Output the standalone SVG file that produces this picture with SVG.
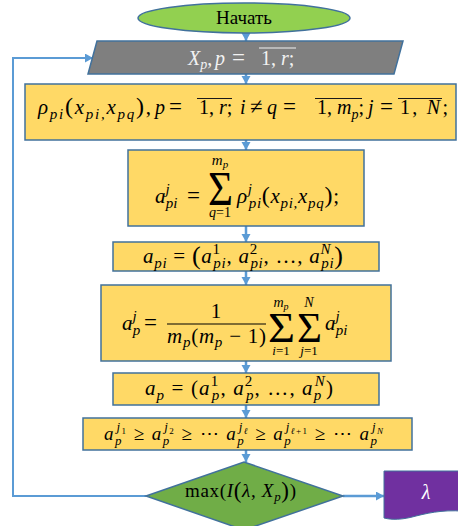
<svg xmlns="http://www.w3.org/2000/svg" width="458" height="526" viewBox="0 0 458 526">
<defs>
<marker id="ah" markerUnits="userSpaceOnUse" markerWidth="10" markerHeight="10" refX="8" refY="4.5" orient="auto">
<path d="M0,0 L8,4.5 L0,9 Z" fill="#5b9bd5"/>
</marker>
<style>
.box{fill:#ffd966;stroke:#41719c;stroke-width:1.5}
.m{font-family:"Liberation Serif","Tinos","Times New Roman","DejaVu Serif","Noto Serif",serif;font-style:italic;fill:#000}
.u{font-style:normal}
.eq{font-style:normal;font-size:23px}
.sig{font-family:"Liberation Serif","Tinos","Times New Roman","DejaVu Serif","Noto Serif",serif;font-style:normal;fill:#000}
.ol{stroke:#1a1a1a;stroke-width:1.2}
.con{fill:none;stroke:#5b9bd5;stroke-width:2.5}
</style>
</defs>
<rect width="458" height="526" fill="#fff"/>

<g id="connectors">
<line class="con" x1="246" y1="33" x2="246" y2="41" marker-end="url(#ah)"/>
<line class="con" x1="246" y1="74" x2="246" y2="84" marker-end="url(#ah)"/>
<line class="con" x1="246" y1="140" x2="246" y2="150" marker-end="url(#ah)"/>
<line class="con" x1="246" y1="226" x2="246" y2="242" marker-end="url(#ah)"/>
<line class="con" x1="246" y1="271" x2="246" y2="285" marker-end="url(#ah)"/>
<line class="con" x1="246" y1="361" x2="246" y2="373" marker-end="url(#ah)"/>
<line class="con" x1="246" y1="405" x2="246" y2="418" marker-end="url(#ah)"/>
<line class="con" x1="246" y1="450" x2="246" y2="462" marker-end="url(#ah)"/>
<line class="con" x1="343" y1="496" x2="384" y2="496" marker-end="url(#ah)"/>
<polyline class="con" style="stroke-width:2" points="146,496 13,496 13,58 93,58" marker-end="url(#ah)"/>
</g>

<g id="start">
<ellipse cx="244" cy="18" rx="106" ry="15" fill="#92d050" stroke="#41719c" stroke-width="1.5"/>
<text class="sig" x="244" y="24" text-anchor="middle" font-size="19">Начать</text>
</g>

<g id="input">
<polygon points="97,41 403,41 394,74 88,74" fill="#7f7f7f" stroke="#41719c" stroke-width="1.5"/>
<text class="m" y="65" font-size="20" style="fill:#f2f2f2"><tspan x="188">X</tspan><tspan font-size="14" dy="4">p</tspan><tspan class="u" dy="-4">,</tspan><tspan x="215">p</tspan><tspan class="eq" x="232">=</tspan><tspan class="u" x="261">1, </tspan>r<tspan class="u">;</tspan></text>
<line x1="259" y1="48" x2="296" y2="48" stroke="#f2f2f2" stroke-width="1.2"/>
</g>

<g id="distances">
<rect class="box" x="25" y="84" width="431" height="56"/>
<text class="m" x="38" y="114" font-size="21" textLength="113" lengthAdjust="spacing">ρ<tspan font-size="15" dy="5">pi</tspan><tspan class="u" dy="-5" font-size="24">(</tspan>x<tspan font-size="15" dy="5">pi,</tspan><tspan dy="-5">x</tspan><tspan font-size="15" dy="5">pq</tspan><tspan class="u" dy="-5" font-size="24">)</tspan><tspan class="u">,</tspan></text>
<text class="m" y="114" font-size="20"><tspan x="155">p</tspan><tspan class="eq" x="169">=</tspan><tspan class="u" x="199">1, </tspan>r<tspan class="u">;</tspan><tspan x="240">i</tspan><tspan class="eq" x="250">≠</tspan><tspan x="267">q</tspan><tspan class="eq" x="283">=</tspan><tspan class="u" x="317">1, </tspan>m<tspan font-size="14" dy="5">p</tspan><tspan class="u" dy="-5">;</tspan><tspan x="368">j</tspan><tspan class="eq" x="380">=</tspan></text>
<text class="m" x="400" y="114" font-size="20" textLength="48" lengthAdjust="spacing"><tspan class="u">1, </tspan>N<tspan class="u">;</tspan></text>
<line class="ol" x1="197" y1="98.5" x2="232" y2="98.5"/>
<line class="ol" x1="315" y1="98.5" x2="362" y2="98.5"/>
<line class="ol" x1="398" y1="98.5" x2="442" y2="98.5"/>
</g>

<g id="sum-q">
<rect class="box" x="128" y="150" width="236" height="76"/>
<text class="m" y="203" font-size="21"><tspan x="155">a</tspan><tspan font-size="15" dy="-9">j</tspan><tspan font-size="15" dx="-4" dy="14">pi</tspan><tspan class="eq" x="187" dy="-5">=</tspan></text>
<text class="sig" x="208" y="205" font-size="48" textLength="25" lengthAdjust="spacingAndGlyphs">Σ</text>
<text class="m" x="220" y="165" font-size="15" text-anchor="middle">m<tspan font-size="11" dy="3">p</tspan></text>
<text class="m" x="220" y="217" font-size="14" text-anchor="middle">q<tspan class="u">=1</tspan></text>
<text class="m" x="237" y="203" font-size="21" textLength="102" lengthAdjust="spacing">ρ<tspan font-size="15" dy="-9">j</tspan><tspan font-size="15" dx="-4" dy="14">pi</tspan><tspan class="u" dy="-5" font-size="24">(</tspan>x<tspan font-size="15" dy="5">pi,</tspan><tspan dy="-5">x</tspan><tspan font-size="15" dy="5">pq</tspan><tspan class="u" dy="-5" font-size="24">)</tspan><tspan class="u">;</tspan></text>
</g>

<g id="vector-pi">
<rect class="box" x="113" y="242" width="266" height="29"/>
<text class="m" x="143" y="263" font-size="21" textLength="200" lengthAdjust="spacing">a<tspan font-size="15" dy="5">pi</tspan><tspan class="u" dy="-5"> = </tspan><tspan class="u" font-size="26" dy="1">(</tspan><tspan dy="-1">a</tspan><tspan class="u" font-size="15" dy="-9">1</tspan><tspan font-size="15" dx="-7.5" dy="14">pi</tspan><tspan class="u" dy="-5">, </tspan>a<tspan class="u" font-size="15" dy="-9">2</tspan><tspan font-size="15" dx="-7.5" dy="14">pi</tspan><tspan class="u" dy="-5">, …, </tspan>a<tspan font-size="15" dy="-9">N</tspan><tspan font-size="15" dx="-10" dy="14">pi</tspan><tspan class="u" font-size="26" dy="-4">)</tspan></text>
</g>

<g id="mean">
<rect class="box" x="101" y="285" width="290" height="76"/>
<text class="m" y="330" font-size="21"><tspan x="122">a</tspan><tspan font-size="15" dy="-9">j</tspan><tspan font-size="15" dx="-4" dy="14">p</tspan><tspan class="eq" x="144" dy="-5">=</tspan></text>
<text class="sig" x="216" y="318" font-size="21" text-anchor="middle">1</text>
<line x1="167" y1="324" x2="266" y2="324" stroke="#000" stroke-width="1.2"/>
<text class="m" x="167" y="343" font-size="21" textLength="99" lengthAdjust="spacing">m<tspan font-size="15" dy="4">p</tspan><tspan class="u" dy="-4">(</tspan>m<tspan font-size="15" dy="4">p</tspan><tspan class="u" dy="-4"> − 1)</tspan></text>
<text class="sig" x="268" y="342" font-size="42" textLength="27" lengthAdjust="spacingAndGlyphs">Σ</text>
<text class="m" x="281" y="307" font-size="14" text-anchor="middle">m<tspan font-size="10" dy="3">p</tspan></text>
<text class="m" x="281" y="355" font-size="13" text-anchor="middle">i<tspan class="u">=1</tspan></text>
<text class="sig" x="297" y="342" font-size="42" textLength="25" lengthAdjust="spacingAndGlyphs">Σ</text>
<text class="m" x="309" y="307" font-size="14" text-anchor="middle">N</text>
<text class="m" x="309" y="355" font-size="13" text-anchor="middle">j<tspan class="u">=1</tspan></text>
<text class="m" x="325" y="330" font-size="21">a<tspan font-size="15" dy="-9">j</tspan><tspan font-size="15" dx="-4" dy="14">pi</tspan></text>
</g>

<g id="vector-p">
<rect class="box" x="113" y="373" width="266" height="32"/>
<text class="m" x="145" y="395" font-size="21" textLength="188" lengthAdjust="spacing">a<tspan font-size="15" dy="5">p</tspan><tspan class="u" dy="-5"> = (</tspan>a<tspan class="u" font-size="15" dy="-9">1</tspan><tspan font-size="15" dx="-7.5" dy="14">p</tspan><tspan class="u" dy="-5">, </tspan>a<tspan class="u" font-size="15" dy="-9">2</tspan><tspan font-size="15" dx="-7.5" dy="14">p</tspan><tspan class="u" dy="-5">, …, </tspan>a<tspan font-size="15" dy="5">p</tspan><tspan font-size="15" dx="-7.5" dy="-14">N</tspan><tspan class="u" dy="9">)</tspan></text>
</g>

<g id="order">
<rect class="box" x="83" y="418" width="329" height="32"/>
<text class="m" x="104" y="440" font-size="19" textLength="279" lengthAdjust="spacing">a<tspan font-size="13" dy="5">p</tspan><tspan font-size="13" dx="-6.5" dy="-14">j</tspan><tspan class="u" font-size="9" dy="3">1</tspan><tspan class="u" dy="6"> ≥ </tspan>a<tspan font-size="13" dy="5">p</tspan><tspan font-size="13" dx="-6.5" dy="-14">j</tspan><tspan class="u" font-size="9" dy="3">2</tspan><tspan class="u" dy="6"> ≥ ⋯ </tspan>a<tspan font-size="13" dy="5">p</tspan><tspan font-size="13" dx="-6.5" dy="-14">j</tspan><tspan font-size="9" dy="3">ℓ</tspan><tspan class="u" dy="6"> ≥ </tspan>a<tspan font-size="13" dy="5">p</tspan><tspan font-size="13" dx="-6.5" dy="-14">j</tspan><tspan font-size="9" dy="3">ℓ</tspan><tspan class="u" font-size="9">+1</tspan><tspan class="u" dy="6"> ≥ ⋯ </tspan>a<tspan font-size="13" dy="5">p</tspan><tspan font-size="13" dx="-6.5" dy="-14">j</tspan><tspan font-size="9" dy="3">N</tspan></text>
</g>

<g id="decision">
<polygon points="146,496 244,462 343,496 244,530" fill="#70ad47" stroke="#41719c" stroke-width="1.5"/>
<text class="m" x="185" y="497" font-size="19" textLength="111" lengthAdjust="spacing"><tspan class="u">max(</tspan>I<tspan class="u" font-size="23" dy="1">(</tspan><tspan dy="-1">λ</tspan><tspan class="u">, </tspan>X<tspan font-size="13" dy="4">p</tspan><tspan class="u" font-size="23" dy="-3">)</tspan><tspan class="u" dy="-1">)</tspan></text>
</g>

<g id="output">
<path d="M384,471 H472 V512 C448,509 432,512 416,516 C402,520 392,520 384,518 Z" fill="#7030a0" stroke="#41719c" stroke-width="1"/>
<text class="m" x="426" y="499" font-size="20" text-anchor="middle" style="fill:#fff">λ</text>
</g>
</svg>
